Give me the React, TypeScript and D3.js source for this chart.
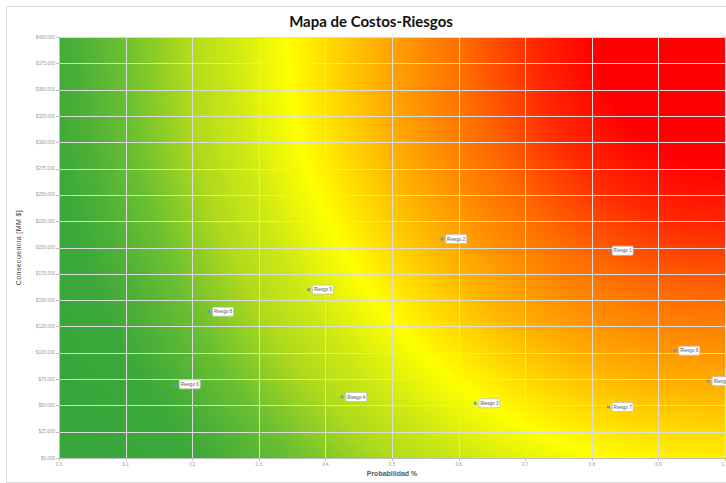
import React from "react";
import * as d3 from "d3";

const riskNames = ["Riesgo 1", "Riesgo 2", "Riesgo 3", "Riesgo 4", "Riesgo 5", "Riesgo 6", "Riesgo 7", "Riesgo 8", "Riesgo 9", "Riesgo 10"];
const probability = [0.825, 0.575, 0.625, 0.425, 0.375, 0.175, 0.825, 0.225, 0.925, 0.975];
const consequence = [197, 208, 52, 58, 160, 70, 48.5, 139, 102, 73];
const xTicks = [0, 0.1, 0.2, 0.3, 0.4, 0.5, 0.6, 0.7, 0.8, 0.9, 1.0];
const yTicks = [0, 25, 50, 75, 100, 125, 150, 175, 200, 225, 250, 275, 300, 325, 350, 375, 400];
const gradientStops: [number, string][] = [
  [0, "#ff0000"],
  [0.165, "#ff0000"],
  [0.241, "#ff2800"],
  [0.33, "#ff6a00"],
  [0.38, "#ff8800"],
  [0.444, "#ffb000"],
  [0.5, "#ffd800"],
  [0.555, "#ffff00"],
  [0.628, "#cce814"],
  [0.683, "#b0da1c"],
  [0.761, "#6cc030"],
  [0.812, "#50b236"],
  [0.863, "#3ba83a"],
  [1, "#36a53a"],
];

export default function App() {
  const W = 726, H = 483;
  const left = 59, right = 725, top = 37, bottom = 458;
  const x = d3.scaleLinear().domain([0, 1]).range([left, right]);
  const y = d3.scaleLinear().domain([0, 400]).range([bottom, top]);
  const fontSmall = "'Liberation Sans', Arial, sans-serif";
  const cx = x(1), cy = y(400);
  const r = Math.hypot(x(1) - x(0), y(0) - y(400));

  return (
    <svg width={W} height={H} style={{ position: "absolute", left: 0, top: 0, background: "#fff" }}>
      <defs>
        <radialGradient id="bg" gradientUnits="userSpaceOnUse" cx={cx} cy={cy} r={r} fx={cx} fy={cy}>
          {gradientStops.map(([o, c], i) => (
            <stop key={i} offset={o} stopColor={c} />
          ))}
        </radialGradient>
      </defs>
      <rect x={6.5} y={6.5} width={900} height={476} fill="#fff" stroke="#d9d9d9" />
      <text x={371} y={27} textAnchor="middle" fontFamily="Lato, 'Liberation Sans', sans-serif" fontWeight="bold" fontSize={15} fill="#111">
        Mapa de Costos-Riesgos
      </text>
      <rect x={left} y={top} width={right - left} height={bottom - top} fill="url(#bg)" />
      {xTicks.map((t, i) => (
        <line key={"gx" + i} x1={Math.round(x(t)) + 0.5} x2={Math.round(x(t)) + 0.5} y1={top} y2={bottom} stroke="#dcdcdc" strokeWidth={1} />
      ))}
      {yTicks.map((t, i) => (
        <line key={"gy" + i} x1={left} x2={right} y1={Math.round(y(t)) + 0.5} y2={Math.round(y(t)) + 0.5} stroke="#dcdcdc" strokeWidth={1} />
      ))}
      <line x1={left + 0.5} x2={left + 0.5} y1={top} y2={bottom + 0.5} stroke="#bfbfbf" />
      <line x1={left} x2={right} y1={bottom + 0.5} y2={bottom + 0.5} stroke="#bfbfbf" />
      {yTicks.map((t, i) => (
        <g key={"ty" + i}>
          <line x1={left - 3} x2={left} y1={Math.round(y(t)) + 0.5} y2={Math.round(y(t)) + 0.5} stroke="#bfbfbf" />
          <text x={left - 4} y={y(t) + 1.6} textAnchor="end" fontFamily={fontSmall} fontSize={4.6} fill="#999">
            {"$" + t.toFixed(3)}
          </text>
        </g>
      ))}
      {xTicks.map((t, i) => (
        <g key={"tx" + i}>
          <line x1={Math.round(x(t)) + 0.5} x2={Math.round(x(t)) + 0.5} y1={bottom} y2={bottom + 3} stroke="#bfbfbf" />
          <text x={x(t)} y={bottom + 8} textAnchor="middle" fontFamily={fontSmall} fontSize={4.6} fill="#999">
            {t.toFixed(1)}
          </text>
        </g>
      ))}
      <text x={392} y={476} textAnchor="middle" fontFamily={fontSmall} fontWeight="bold" fontSize={7} fill="#595959">
        Probabilidad %
      </text>
      <text transform={`translate(21,${(top + bottom) / 2}) rotate(-90)`} textAnchor="middle" fontFamily={fontSmall} fontSize={7} letterSpacing={0.4} fill="#404040">
        Consecuencia [MM $]
      </text>
      {riskNames.map((name, i) => {
        const px = x(probability[i]);
        const py = y(consequence[i]);
        const bw = name.length > 8 ? 24 : 21;
        return (
          <g key={"p" + i}>
            <rect x={px - 1.4} y={py - 1.4} width={2.8} height={2.8} fill="#5b9bd5" />
            <rect x={px + 3.7} y={py - 4.5} width={bw} height={9} rx={1} fill="#fff" stroke="#bfbfbf" strokeWidth={0.8} />
            <text x={px + 3.7 + bw / 2} y={py + 1.6} textAnchor="middle" fontFamily={fontSmall} fontSize={4.6} fill="#595959">
              {name}
            </text>
          </g>
        );
      })}
    </svg>
  );
}
